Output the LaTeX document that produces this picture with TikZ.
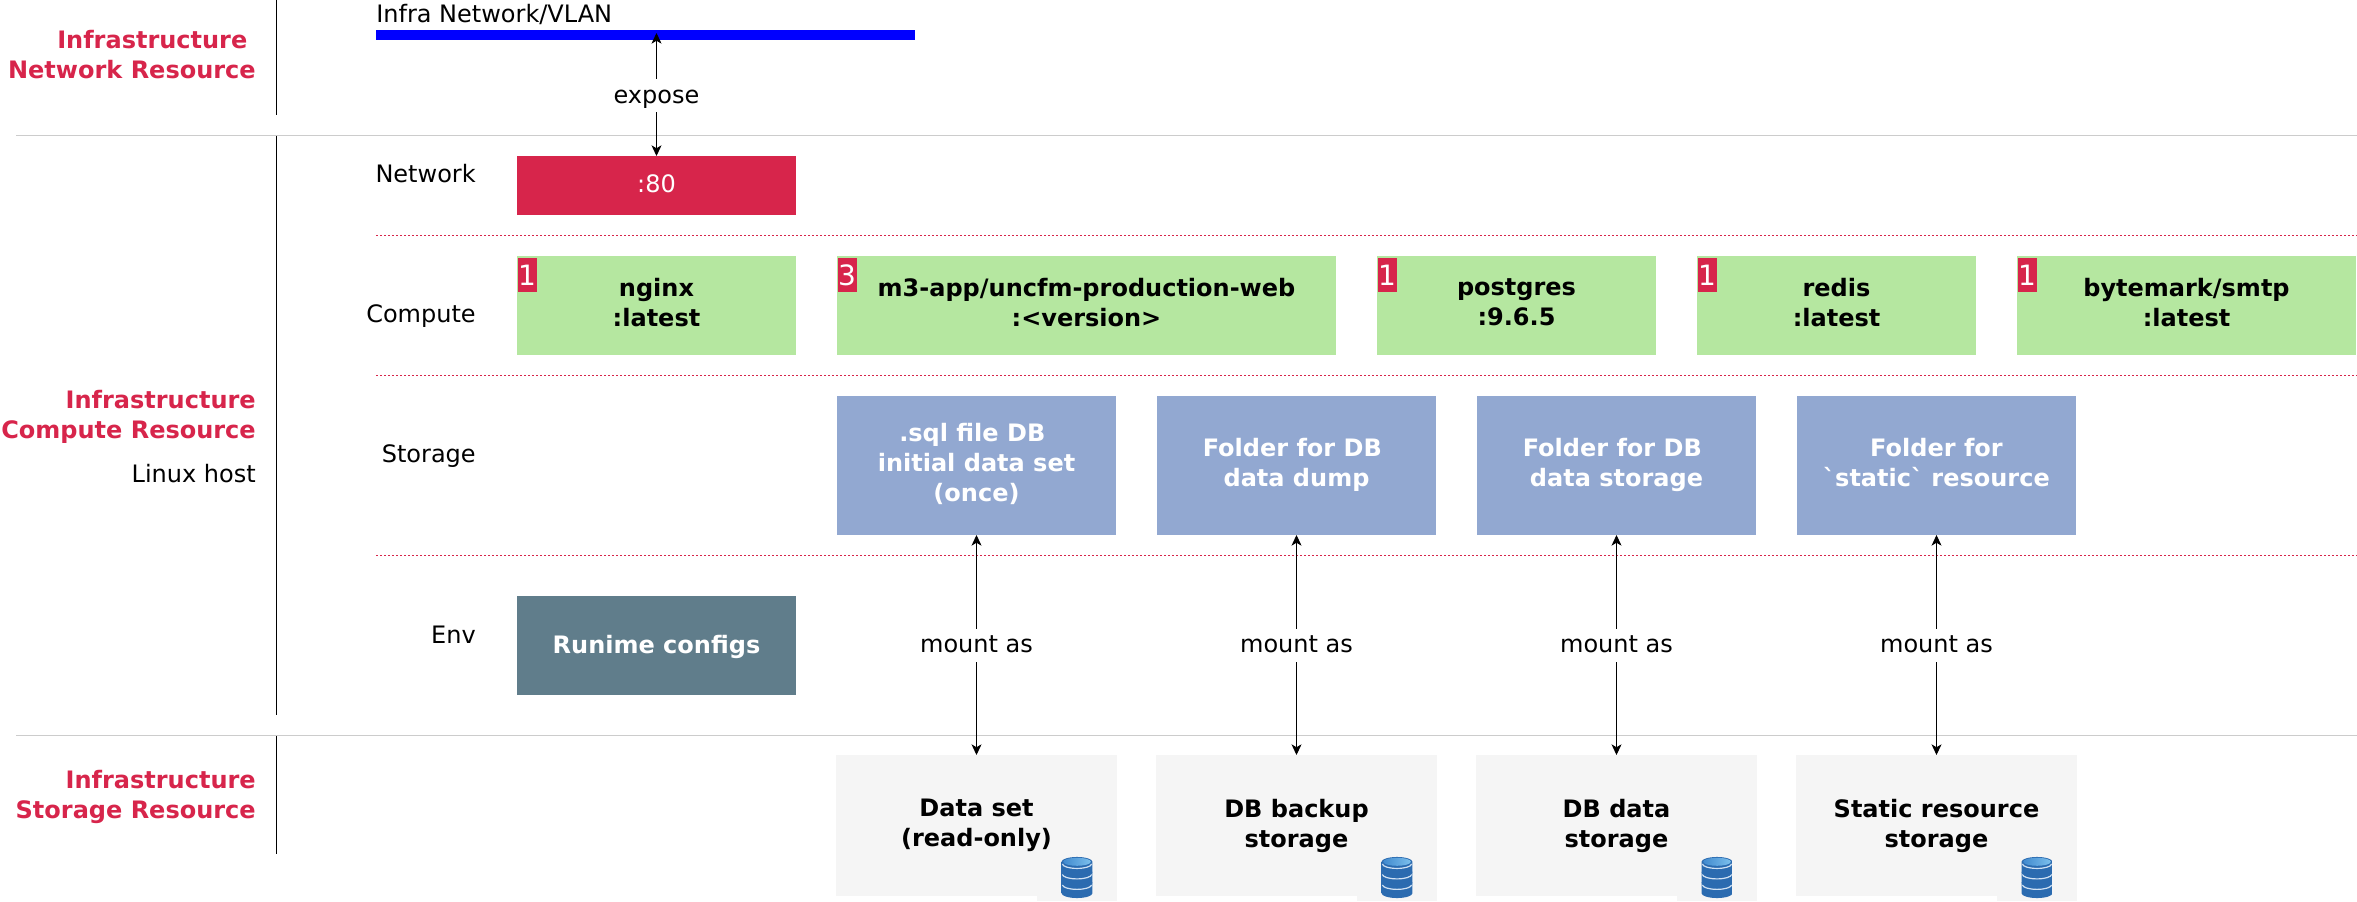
\documentclass[tikz,border=0pt]{standalone}
\usepackage{fontspec}
\setmainfont{DejaVu Sans}
\usetikzlibrary{positioning,arrows.meta}

\definecolor{infrared}{HTML}{D7254B}
\definecolor{computegreen}{HTML}{B5E7A0}
\definecolor{storageblue}{HTML}{92A8D1}
\definecolor{envslate}{HTML}{607D8B}
\definecolor{datagrey}{HTML}{F5F5F5}
\definecolor{dbmid}{HTML}{4189CE}
\definecolor{dbdark}{HTML}{2B6BB0}
\definecolor{dbtopcolor}{HTML}{7CC0EC}
\newcommand{\trailsp}{\kern.35em\relax}
\newcommand{\boxstrut}{\rule[-6.75pt]{0pt}{24.75pt}}
\newcommand{\lastdepth}[1]{\rule[-#1]{0pt}{#1}}

\begin{document}
\begin{tikzpicture}[
    x=0.75pt, y=-0.75pt,
    node distance=30.75pt,
    every node/.style={font=\fontsize{18}{22.5}\selectfont},
    strutted/.style={execute at begin node=\boxstrut, execute at end node=\boxstrut},
    multistrut/.style={execute at end node=\lastdepth{#1}},
    multistrut/.default=4.5pt,
    box/.style={rectangle, inner sep=0pt, outer sep=0pt, align=center, anchor=north west},
    boldtext/.style={font=\fontsize{18}{22.5}\selectfont\bfseries},
    portbox/.style={box, strutted, fill=infrared, text=white, minimum width=209.25pt, minimum height=44.25pt},
    computebox/.style={box, multistrut, boldtext, fill=computegreen, minimum height=74.25pt},
    storagebox/.style={box, multistrut, boldtext, fill=storageblue, text=white, minimum width=209.25pt, minimum height=104.25pt},
    envbox/.style={box, strutted, boldtext, fill=envslate, text=white, minimum width=209.25pt, minimum height=74.25pt},
    databox/.style={box, multistrut=3.4pt, boldtext, fill=datagrey, minimum width=210.75pt, minimum height=105.75pt},
    badge/.style={rectangle, inner sep=0pt, outer sep=0pt, anchor=north west, fill=infrared, text=white,
        minimum width=14.25pt, minimum height=25.5pt, font=\fontsize{21}{25}\selectfont},
    iconbg/.style={rectangle, inner sep=0pt, outer sep=0pt, fill=datagrey, minimum width=60pt, minimum height=35.25pt},
    rowlabel/.style={anchor=base east, inner sep=0pt},
    grouplabel/.style={anchor=east, inner sep=0pt, align=right, text=infrared, boldtext, multistrut},
    arrow/.style={line width=0.75pt, {Stealth[length=8pt,width=7.5pt,inset=2.2pt]}-{Stealth[length=8pt,width=7.5pt,inset=2.2pt]}},
    armlabel/.style={midway, fill=white, inner xsep=2pt, inner ysep=0pt, strutted},
    vline/.style={line width=0.75pt, black},
    greyline/.style={line width=0.75pt, black!20},
    rowsep/.style={line width=0.75pt, infrared, dash pattern=on 1.5pt off 1.5pt},
    pics/dbicon/.style={code={
        \foreach \dbtop in {-3.9,3.95,11.8}{
            \begin{scope}[yshift=\dbtop pt]
                \path[left color=dbdark, middle color=dbmid, right color=dbdark]
                    (-11.6pt,0pt) -- (-11.6pt,-7.9pt) arc[start angle=180, end angle=360, x radius=11.6pt, y radius=3.6pt]
                    -- (11.6pt,0pt) arc[start angle=0, end angle=180, x radius=11.6pt, y radius=3.6pt] -- cycle;
                \draw[line width=0.9pt, white!75!dbmid] (-10.9pt,-1.6pt) arc[start angle=180, end angle=360, x radius=10.9pt, y radius=3.4pt];
            \end{scope}
        }
        \path[left color=dbmid, right color=dbtopcolor] (0pt,11.8pt) ellipse[x radius=10.4pt, y radius=3pt];
    }}
]
\useasboundingbox (0,0) rectangle (2357,902);

% Separators
\coordinate (greyAl) at (16,135.5);
\coordinate (greyAr) at (2357,135.5);
\coordinate (greyBl) at (16,735.5);
\coordinate (greyBr) at (2357,735.5);
\draw[greyline] (greyAl) -- (greyAr);
\draw[greyline] (greyBl) -- (greyBr);
\foreach \nm/\yy in {sepa/235.5,sepb/375.5,sepc/555.5}{
    \coordinate (\nm l) at (376,\yy);
    \coordinate (\nm r) at (2357,\yy);
    \draw[rowsep] (\nm l) -- (\nm r);
}
\foreach \nm/\ya/\yb in {vnet/0/115,vcomp/136/715,vstor/736/854}{
    \coordinate (\nm t) at (276.5,\ya);
    \coordinate (\nm b) at (276.5,\yb);
    \draw[vline] (\nm t) -- (\nm b);
}

% Group labels
\node[grouplabel] (groupnet) at (256,57) {Infrastructure\trailsp\\Network Resource};
\node[grouplabel] (groupcomp) at (256,417) {Infrastructure\\Compute Resource};
\node[rowlabel] (linuxhost) at (256,482.7) {Linux host};
\node[grouplabel] (groupstor) at (256,797) {Infrastructure\\Storage Resource};

% Row labels
\node[rowlabel, anchor=base west] (vlanlabel) at (376,22.7) {Infra Network/VLAN};
\node[rowlabel] (rownet) at (476,182.7) {Network};
\node[rowlabel] (rowcomp) at (476,322.7) {Compute};
\node[rowlabel] (rowstor) at (476,462.7) {Storage};
\node[rowlabel] (rowenv) at (476,643) {Env};

% Network
\node[rectangle, inner sep=0pt, anchor=north west, fill=blue, minimum width=404pt, minimum height=7.5pt] (vlan) at (376,30) {};
\node[portbox] (port) at (517,156) {:80};

% Compute
\node[computebox, minimum width=209.25pt] (nginx) at (517,256) {nginx\\:latest};
\node[computebox, minimum width=374.25pt, right=of nginx] (webapp) {m3-app/uncfm-production-web\\:<version>};
\node[computebox, minimum width=209.25pt, right=of webapp] (postgres) {postgres\\:9.6.5};
\node[computebox, minimum width=209.25pt, right=of postgres] (redis) {redis\\:latest};
\node[computebox, minimum width=254.25pt, right=of redis] (smtp) {bytemark/smtp\\:latest};

% Replica counts
\foreach \nm/\cnt in {nginx/1,webapp/3,postgres/1,redis/1,smtp/1}{
    \node[badge] (\nm count) at ([yshift=-1.5pt,xshift=0.4pt]\nm.north west) {\cnt};
}

% Storage
\node[storagebox] (sqlfile) at (837,396) {.sql file DB\trailsp\\initial data set\\(once)};
\node[storagebox, right=of sqlfile] (dumpdir) {Folder for DB\trailsp\\data dump};
\node[storagebox, right=of dumpdir] (datadir) {Folder for DB\trailsp\\data storage};
\node[storagebox, right=of datadir] (staticdir) {Folder for\\\textasciigrave static\textasciigrave\ resource};

% Env
\node[envbox] (envcfg) at (517,596) {Runime configs};

% Data
\node[databox] (dataset) at (836,755) {Data set\\(read-only)};
\node[databox, right=29.25pt of dataset] (backup) {DB backup\\storage};
\node[databox, right=29.25pt of backup] (dbstore) {DB data\\storage};
\node[databox, right=29.25pt of dbstore] (staticstore) {Static resource\\storage};

% Database icons
\foreach \nm in {dataset,backup,dbstore,staticstore}{
    \node[iconbg, anchor=north east] (\nm bg) at ([yshift=-74.25pt]\nm.north east) {};
    \pic at (\nm bg.center) {dbicon};
}

% Arrows
\coordinate (vlanport) at (656.5,33);
\draw[arrow] (port.north) -- node[armlabel, pos=0.49] (exposelabel) {expose} (vlanport);
\foreach \top/\bot in {sqlfile/dataset,dumpdir/backup,datadir/dbstore,staticdir/staticstore}{
    \draw[arrow] (\top.south) -- node[armlabel] (\top mount) {mount as} (\top.south |- \bot.north);
}
\end{tikzpicture}
\end{document}
